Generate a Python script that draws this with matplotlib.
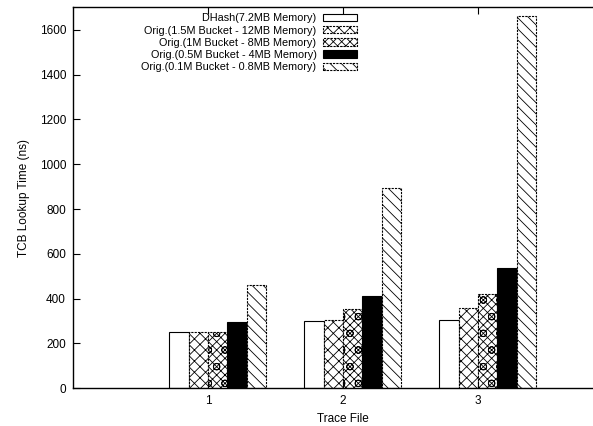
import matplotlib
matplotlib.use("Agg")
import matplotlib.pyplot as plt
import numpy as np

plt.rcParams['font.family'] = ['Liberation Sans', 'DejaVu Sans']
plt.rcParams['font.size'] = 8.5
plt.rcParams['hatch.linewidth'] = 0.6

traces = [1, 2, 3]
series = ['DHash(7.2MB Memory)',
          'Orig.(1.5M Bucket - 12MB Memory)',
          'Orig.(1M Bucket - 8MB Memory)',
          'Orig.(0.5M Bucket - 4MB Memory)',
          'Orig.(0.1M Bucket - 0.8MB Memory)']
dhash = [252, 302, 305]
orig_15m = [251, 306, 357]
orig_1m = [252, 352, 419]
orig_05m = [297, 410, 535]
orig_01m = [460, 893, 1660]
values = [dhash, orig_15m, orig_1m, orig_05m, orig_01m]

hatches = ['', 'xxx', 'xxxxo', '', '\\\\\\']
faces = ['white', 'white', 'white', 'black', 'white']
styles = ['-', (0, (2, 1)), (0, (2, 1)), '-', (0, (2, 1))]

fig = plt.figure(figsize=(5.93, 4.26), dpi=100)
ax = fig.add_axes([73 / 593, 37.7 / 426, 540 / 593, 381 / 426])

bw = 1 / 7
x = np.array(traces)
handles = []
for j, (vals, name) in enumerate(zip(values, series)):
    bars = ax.bar(x + (j - 1.5) * bw, vals, bw, color=faces[j], edgecolor='black',
                  hatch=hatches[j], linewidth=0.8, linestyle=styles[j], label=name)
    handles.append(bars)

ax.set_xlim(0, 4)
ax.set_ylim(0, 1700)
ax.set_xticks(traces)
ax.set_yticks(range(0, 1601, 200))
ax.tick_params(direction='in', length=5, width=0.8, top=True, right=True, pad=5)
for s in ax.spines.values():
    s.set_linewidth(1.0)

ax.set_xlabel('Trace File', labelpad=4)
ax.set_ylabel('TCB Lookup Time (ns)', labelpad=7)

ax.legend(handles=handles, loc='upper right', bbox_to_anchor=(362 / 593, 418 / 426),
          bbox_transform=fig.transFigure, frameon=False, markerfirst=False,
          borderpad=0, labelspacing=0.2, handlelength=3.1, handleheight=0.65,
          handletextpad=0.6, fontsize=7.8)

fig.savefig('out.png', dpi=100)
